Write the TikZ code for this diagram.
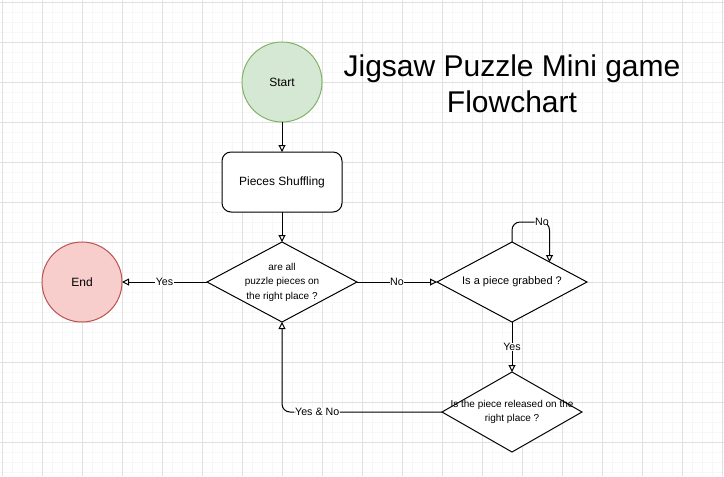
\documentclass[tikz,border=0pt]{standalone}
\usepackage{fontspec}
\setmainfont{Liberation Sans}
\usetikzlibrary{shapes,arrows.meta}
\definecolor{startfill}{HTML}{D5E8D4}
\definecolor{startline}{HTML}{82B366}
\definecolor{endfill}{HTML}{F8CECC}
\definecolor{endline}{HTML}{B85450}
\definecolor{minorgrid}{HTML}{F7F7F7}
\definecolor{majorgrid}{HTML}{E0E0E0}
\tikzstyle{terminal}=[circle, draw, line width=0.75pt, minimum size=60pt, inner sep=0pt, outer sep=0pt, font=\fontsize{9}{10.8}\selectfont]
\tikzstyle{process}=[rectangle, draw, rounded corners=6.75pt, line width=0.75pt, minimum width=90pt, minimum height=45pt, outer sep=0pt, font=\fontsize{9}{10.8}\selectfont]
\tikzstyle{decision}=[diamond, draw, line width=0.75pt, minimum width=112.5pt, minimum height=60pt, inner sep=0pt, outer sep=0pt, fill=white]
\tikzstyle{dtext}=[align=center, inner sep=0pt, font=\fontsize{7.5}{10.9}\selectfont]
\tikzstyle{connector}=[line width=0.75pt, -{Triangle[fill=white, length=5.25pt, width=5.25pt]}]
\tikzstyle{elabel}=[fill=white, inner sep=0.5pt, font=\fontsize{8}{9.6}\selectfont]
\begin{document}
\begin{tikzpicture}[x=0.75pt, y=-0.75pt]
    % page with the drawing grid
    \useasboundingbox (0,0) rectangle (724,476);
    \fill[white] (0,0) rectangle (724,476);
    \foreach \x in {2,12,...,722}
    \draw[color=minorgrid, line width=0.75pt] (\x,0) -- (\x,476);
    \foreach \y in {2,12,...,472}
    \draw[color=minorgrid, line width=0.75pt] (0,\y) -- (724,\y);
    \foreach \x in {2,42,...,722}
    \draw[color=majorgrid, line width=0.75pt] (\x,0) -- (\x,476);
    \foreach \y in {2,42,...,442}
    \draw[color=majorgrid, line width=0.75pt] (0,\y) -- (724,\y);

    % title
    \node[align=center, font=\fontsize{22.5}{27}\selectfont] (title) at (512,83.5)
      {Jigsaw Puzzle Mini game\\Flowchart};

    % shapes
    \node[terminal, fill=startfill, draw=startline] (start) at (282,82) {Start};
    \node[process, fill=white] (shuffle) at (282,182) {Pieces Shuffling};
    \node[decision] (check) at (282,282) {};
    \node[dtext] at (check) {are all\\puzzle pieces on\\the right place ?};
    \node[terminal, fill=endfill, draw=endline] (finish) at (82,282) {End};
    \node[decision] (grab) at (512,282) {};
    \node[dtext, font=\fontsize{8.25}{9.9}\selectfont] at (grab) {Is a piece grabbed ?};
    \node[decision, minimum width=105pt] (release) at (512,412) {};
    \node[dtext, font=\fontsize{7.5}{10}\selectfont] at (release) {Is the piece released on the\\right place ?};

    % connectors
    \draw[connector] (start) -- (shuffle);
    \draw[connector] (shuffle) -- (check);
    \draw[connector] (check.west) -- node[elabel]{Yes} (finish.east);
    \draw[connector] (check.east) -- node[elabel]{No} (grab.west);
    \draw[connector, rounded corners=6pt] (grab.north) -- ++(0,-20)
      -| node[elabel, pos=0.4]{No} (grab.north east);
    \draw[connector] (grab.south) -- node[elabel]{Yes} (release.north);
    \draw[connector, rounded corners=6pt] (release.west)
      -| node[elabel, pos=0.39]{Yes \& No} (check.south);
  \end{tikzpicture}
\end{document}
